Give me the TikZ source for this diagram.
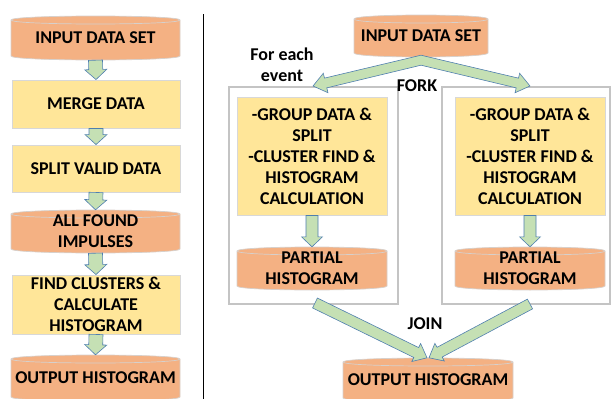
\documentclass[tikz,border=0pt]{standalone}
\usepackage{fontspec}
\setmainfont{Carlito}
\usetikzlibrary{calc}
\definecolor{corange}{HTML}{F4B183}
\definecolor{cedge}{HTML}{D6D0CC}
\definecolor{cyellow}{HTML}{FFE699}
\definecolor{cyedge}{HTML}{D8D8D8}
\definecolor{cgreen}{HTML}{C5E0B4}
\definecolor{cblue}{HTML}{4F7FAF}
\definecolor{cgray}{HTML}{C4C4C4}
\newcommand\lblfont{\fontsize{18}{21}\selectfont\bfseries}
\tikzset{
  cylsty/.style={fill=corange, draw=cedge, line width=0.7pt},
  yelbox/.style={fill=cyellow, draw=cyedge, line width=0.9pt, inner sep=0pt, font=\lblfont, align=center},
  arr/.style={fill=cgreen, draw=cblue, line width=0.6pt, line join=miter},
  grpbox/.style={draw=cgray, line width=1.6pt, fill=white, inner sep=0pt},
  lbl/.style={font=\lblfont, align=center, inner sep=0pt, text=black},
}
% cylinder: name, x1, ytop, x2, ybottom, text
\newcommand\mycyl[6]{%
  \draw[cylsty] (#2,#3+4) -- (#2,#5-4) .. controls (#2,#5+1.33) and (#4,#5+1.33) .. (#4,#5-4)
     -- (#4,#3+4) .. controls (#4,#3-1.33) and (#2,#3-1.33) .. (#2,#3+4) -- cycle;
  \draw[draw=cedge, line width=0.7pt] (#2,#3+4) .. controls (#2,#3+9.33) and (#4,#3+9.33) .. (#4,#3+4);
  \pgfmathsetmacro\cylw{#4-#2}\pgfmathsetmacro\cylh{#5-#3}%
  \node[lbl, minimum width=\cylw pt, minimum height=\cylh pt] (#1) at ({(#2+#4)/2},{(#3+#5)/2}) {#6};
}
% fat arrow: start, tip, shaft half width, head half width, head length
\newcommand\fatarrow[5]{%
  \path coordinate (fas) at (#1) coordinate (fat) at (#2);
  \path coordinate (fah) at ($(fat)!#5!(fas)$);
  \draw[arr] ($(fas)!#3!90:(fat)$) -- ($(fah)!#3!90:(fat)$) -- ($(fah)!#4!90:(fat)$) -- (fat)
     -- ($(fah)!#4!-90:(fat)$) -- ($(fah)!#3!-90:(fat)$) -- ($(fas)!#3!-90:(fat)$) -- cycle;
}
\begin{document}
\begin{tikzpicture}[x=1pt,y=-1pt]
\useasboundingbox (0,0) rectangle (611,399);
% separator
\draw[line width=0.9pt] (203,14) -- (203,399);
% ---------- left column ----------
\mycyl{inA}{11}{16}{180}{60}{INPUT DATA SET}
\node[yelbox, minimum width=168pt, minimum height=48pt] (merge) at (96,104) {MERGE DATA};
\node[yelbox, minimum width=168pt, minimum height=47pt] (split) at (96,168.5) {SPLIT VALID DATA};
\mycyl{allf}{11}{210}{180}{253}{ALL FOUND\\IMPULSES}
\node[yelbox, minimum width=168pt, minimum height=59pt] (find) at (96,304.5) {FIND CLUSTERS \&\\CALCULATE\\HISTOGRAM};
\mycyl{outA}{11}{355}{180}{401}{OUTPUT HISTOGRAM}
\fatarrow{inA.south}{merge.north}{7pt}{11pt}{10pt}
\fatarrow{merge.south}{split.north}{7pt}{11pt}{10pt}
\fatarrow{split.south}{allf.north}{7pt}{11pt}{10pt}
\fatarrow{allf.south}{find.north}{7pt}{11pt}{10pt}
\fatarrow{find.south}{outA.north}{7pt}{11pt}{10pt}
% ---------- right part ----------
\node[grpbox, minimum width=169pt, minimum height=217pt] (grpL) at (313.5,195.5) {};
\node[grpbox, minimum width=168pt, minimum height=217pt] (grpR) at (526,195.5) {};
\node[yelbox, minimum width=150pt, minimum height=118pt] (workL) at (312,156)
  {-GROUP DATA \&\\SPLIT\\-CLUSTER FIND \&\\HISTOGRAM\\CALCULATION};
\node[yelbox, minimum width=150pt, minimum height=118pt] (workR) at (530,156)
  {-GROUP DATA \&\\SPLIT\\-CLUSTER FIND \&\\HISTOGRAM\\CALCULATION};
\mycyl{partL}{237}{247}{387}{290}{PARTIAL\\HISTOGRAM}
\mycyl{partR}{455}{247}{605}{290}{PARTIAL\\HISTOGRAM}
\mycyl{inB}{354}{15}{488}{57}{INPUT DATA SET}
\mycyl{outB}{343}{358}{513}{402}{OUTPUT HISTOGRAM}
\fatarrow{workL.south}{partL.north}{6pt}{10.5pt}{10pt}
\fatarrow{workR.south}{partR.north}{6pt}{10.5pt}{10pt}
% fork
\coordinate (forkL) at (313,86);
\coordinate (forkR) at (530,86);
\path coordinate (fs) at ($(inB.south)+(0,3)$);
\path coordinate (hl) at ($(forkL)!13pt!(fs)$) coordinate (hr) at ($(forkR)!13pt!(fs)$);
\draw[arr] ($(fs)+(0,-5)$) -- ($(hl)!5pt!-90:(forkL)$) -- ($(hl)!10pt!-90:(forkL)$) -- (forkL)
   -- ($(hl)!10pt!90:(forkL)$) -- ($(hl)!5pt!90:(forkL)$) -- ($(fs)+(0,5)$)
   -- ($(hr)!5pt!-90:(forkR)$) -- ($(hr)!10pt!-90:(forkR)$) -- (forkR)
   -- ($(hr)!10pt!90:(forkR)$) -- ($(hr)!5pt!90:(forkR)$) -- cycle;
% join
\coordinate (joinL) at (315,303);
\coordinate (joinR) at (530,304);
\fatarrow{joinL}{$(outB.north)+(-1,0)$}{5.5pt}{10pt}{12pt}
\fatarrow{joinR}{$(outB.north)+(1,0)$}{5.5pt}{10pt}{12pt}
% labels
\node[lbl] (each) at (282,64.5) {For each\\event};
\node[lbl] (fork) at (417,86) {FORK};
\node[lbl] (join) at (425,324) {JOIN};
\end{tikzpicture}
\end{document}
